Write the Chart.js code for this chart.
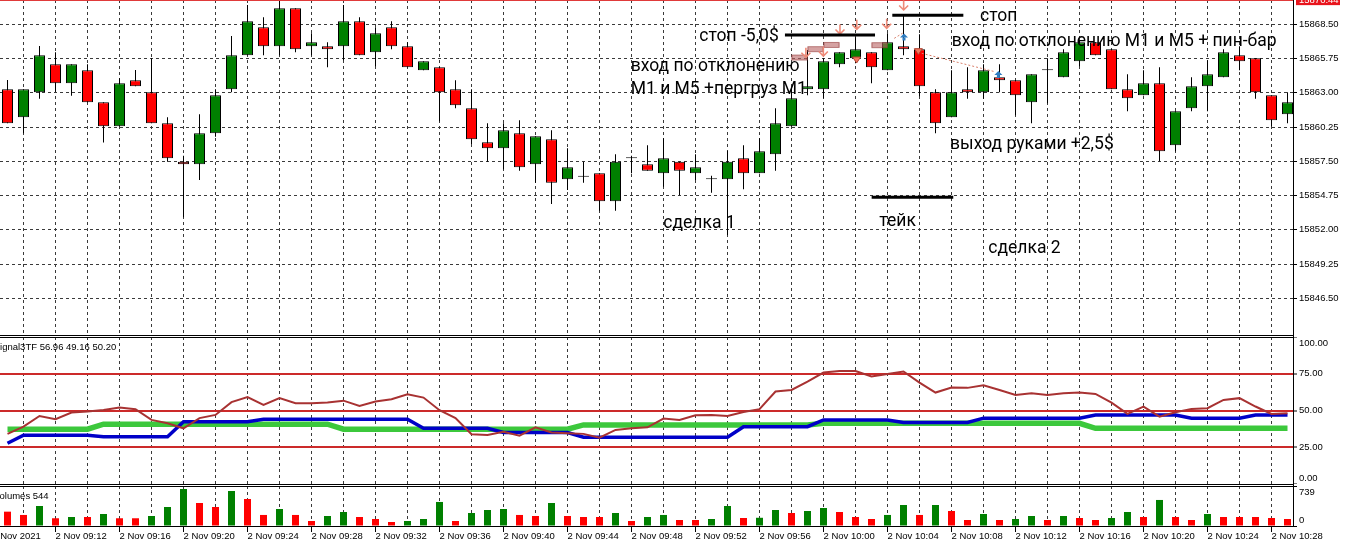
<!DOCTYPE html>
<html><head><meta charset="utf-8">
<script src="https://cdn.jsdelivr.net/npm/chart.js@4.4.1/dist/chart.umd.min.js"></script>
<style>
html,body{margin:0;padding:0;background:#fff;overflow:hidden}
#wrap{position:relative;width:1348px;height:548px;background:#fff}
canvas{position:absolute;left:0}
.ln{position:absolute;background:#000;z-index:5}
</style></head><body>
<div id="wrap">
<canvas id="c1" width="1348" height="335" style="top:0"></canvas>
<canvas id="c2" width="1348" height="147" style="top:337px"></canvas>
<canvas id="c3" width="1348" height="62" style="top:486px"></canvas>
<div class="ln" style="left:0;top:335px;width:1294px;height:1px"></div>
<div class="ln" style="left:0;top:337px;width:1294px;height:1px"></div>
<div class="ln" style="left:0;top:484px;width:1294px;height:1px"></div>
<div class="ln" style="left:0;top:486px;width:1294px;height:1px"></div>
<div class="ln" style="left:0;top:526px;width:1294px;height:1px"></div>
<div class="ln" style="left:1293px;top:0;width:1px;height:527px"></div>
</div>
<script>
// ---------------- data ----------------
const times = ['09:09','09:10','09:11','09:12','09:13','09:14','09:15','09:16','09:17','09:18','09:19',
'09:20','09:21','09:22','09:23','09:24','09:25','09:26','09:27','09:28','09:29',
'09:30','09:31','09:32','09:33','09:34','09:35','09:36','09:37','09:38','09:39',
'09:40','09:41','09:42','09:43','09:44','09:45','09:46','09:47','09:48','09:49',
'09:50','09:51','09:52','09:53','09:54','09:55','09:56','09:57','09:58','09:59',
'10:00','10:01','10:02','10:03','10:04','10:05','10:06','10:07','10:08','10:09',
'10:10','10:11','10:12','10:13','10:14','10:15','10:16','10:17','10:18','10:19',
'10:20','10:21','10:22','10:23','10:24','10:25','10:26','10:27','10:28','10:29'];

const openP = [15863.28,15861.03,15863.04,15865.29,15863.76,15864.81,15862.24,15860.31,15864.00,15863.04,
15860.55,15857.47,15857.26,15859.75,15863.28,15866.01,15868.26,15866.73,15869.78,15866.73,
15866.73,15866.73,15868.74,15866.25,15868.26,15866.73,15864.81,15865.05,15863.28,15861.75,
15859.03,15858.54,15859.75,15857.26,15859.27,15856.05,15856.26,15856.53,15854.29,15857.74,
15857.26,15856.53,15857.47,15856.53,15856.05,15856.05,15857.74,15856.53,15858.06,15860.31,
15863.28,15863.28,15865.29,15865.77,15866.25,15864.81,15866.73,15866.49,15863.04,15861.03,
15863.28,15863.04,15864.24,15864.00,15862.24,15864.81,15864.24,15865.53,15867.05,15866.49,
15863.28,15862.80,15863.76,15858.78,15861.75,15863.52,15864.24,15866.01,15865.77,15862.80,15861.27];
const highP = [15864.03,15863.28,15866.76,15866.25,15865.29,15865.29,15862.24,15864.16,15864.83,15865.77,
15861.03,15857.95,15861.27,15863.28,15867.56,15870.05,15869.06,15870.37,15869.78,15867.78,
15867.05,15870.05,15869.06,15868.26,15868.74,15867.05,15865.53,15865.05,15864.00,15863.28,
15860.55,15860.55,15860.79,15859.51,15859.99,15858.54,15857.47,15856.53,15858.06,15857.95,
15858.78,15859.35,15857.47,15858.06,15856.34,15858.35,15858.78,15859.35,15861.75,15863.36,
15866.44,15865.77,15866.25,15867.46,15866.25,15867.78,15869.25,15867.70,15863.28,15864.81,
15865.05,15865.29,15865.29,15864.00,15864.48,15865.77,15866.49,15867.29,15867.05,15866.49,
15864.48,15864.81,15865.05,15861.51,15864.24,15865.61,15866.49,15866.73,15865.77,15862.80,15863.04];
const lowP = [15860.55,15859.75,15862.53,15863.09,15862.77,15862.24,15859.00,15860.31,15863.52,15860.55,
15857.47,15853.00,15856.00,15859.47,15863.04,15866.01,15866.01,15866.01,15866.25,15866.01,
15865.05,15865.61,15866.01,15865.13,15866.49,15865.05,15864.81,15860.71,15861.75,15858.89,
15857.47,15856.86,15856.74,15855.78,15854.07,15855.20,15855.78,15853.53,15853.53,15856.53,
15856.74,15855.46,15854.77,15856.00,15854.98,15851.58,15855.25,15856.53,15856.74,15860.31,
15862.80,15862.56,15865.05,15865.37,15863.76,15864.81,15866.01,15862.72,15859.75,15861.03,
15862.53,15862.53,15863.04,15861.19,15860.55,15862.16,15864.24,15865.13,15866.01,15863.28,
15861.51,15862.80,15857.50,15858.30,15861.51,15861.51,15864.24,15864.81,15862.53,15860.31,15860.55];
const closeP = [15860.55,15863.28,15866.01,15863.76,15865.29,15862.24,15860.31,15863.76,15863.52,15860.55,
15857.74,15857.26,15859.75,15862.80,15866.01,15868.74,15866.73,15869.78,15866.49,15867.05,
15866.49,15868.74,15866.01,15867.78,15866.73,15865.05,15865.53,15863.04,15862.00,15859.27,
15858.54,15859.99,15857.02,15859.51,15855.78,15857.02,15856.26,15854.29,15857.47,15857.74,
15856.74,15857.74,15856.74,15857.02,15856.05,15857.47,15856.53,15858.30,15860.55,15862.56,
15863.52,15865.53,15866.25,15866.49,15865.05,15867.05,15866.49,15863.52,15860.55,15863.04,
15863.04,15864.81,15864.00,15862.80,15864.48,15864.81,15866.25,15867.05,15866.01,15863.28,
15862.56,15863.76,15858.30,15861.51,15863.52,15864.48,15866.25,15865.53,15863.04,15860.79,15862.24];

const signalMain = [34.1,39.0,46.3,44.1,48.6,49.3,50.4,52.0,50.9,43.6,
41.3,37.9,44.8,47.0,55.7,59.1,53.8,58.4,55.0,55.0,
55.4,56.7,53.1,56.1,57.7,61.1,58.8,50.2,44.8,33.9,
33.4,35.6,32.9,38.6,35.0,34.5,34.1,31.5,36.8,37.9,
38.6,44.5,43.6,46.8,47.0,46.3,49.0,50.9,62.9,64.0,
69.7,75.8,76.8,76.8,73.1,74.8,76.5,69.0,62.2,65.6,
65.4,67.2,64.0,60.6,61.8,60.6,61.8,62.2,61.3,55.4,
47.7,52.7,45.8,48.8,51.1,51.6,57.2,58.4,52.7,47.7,48.2];
const signalBlue = [27.7,33.2,33.2,33.2,33.2,33.2,32.2,32.2,32.2,32.2,
32.2,42.4,42.4,42.4,42.4,42.4,44.1,44.1,44.1,44.1,
44.1,44.1,44.1,44.1,44.1,44.1,37.9,37.9,37.9,37.9,
37.9,35.0,35.0,35.0,35.0,35.0,31.8,31.8,31.8,31.8,
31.8,31.8,31.8,31.8,31.8,31.8,39.0,39.0,39.0,39.0,
39.0,43.6,43.6,43.6,43.6,43.6,41.8,41.8,41.8,41.8,
41.8,44.8,44.8,44.8,44.8,44.8,44.8,44.8,47.0,47.0,
47.0,47.0,47.0,47.0,44.8,44.8,44.8,44.8,47.0,47.0,47.0];
const signalGreen = [37.3,37.3,37.3,37.3,37.3,37.3,40.7,40.7,40.7,40.7,
40.7,40.7,40.7,40.7,40.7,40.7,40.7,40.7,40.7,40.7,
40.7,37.3,37.3,37.3,37.3,37.3,37.3,37.3,37.3,37.3,
37.3,37.3,37.3,37.3,37.3,37.3,40.2,40.2,40.2,40.2,
40.2,40.2,40.2,40.2,40.2,40.2,40.2,40.2,40.2,40.2,
40.2,41.3,41.3,41.3,41.3,41.3,41.3,41.3,41.3,41.3,
41.3,41.3,41.3,41.3,41.3,41.3,41.3,41.3,37.9,37.9,
37.9,37.9,37.9,37.9,37.9,37.9,37.9,37.9,37.9,37.9,37.9];

const volumes = [265,204,370,143,166,166,222,143,143,185,
351,684,425,351,647,499,204,314,204,92,
185,259,166,129,74,92,129,444,92,240,
296,314,204,185,425,185,166,166,240,92,
166,204,111,111,129,370,148,152,296,240,
277,333,259,166,129,204,388,204,388,277,
111,222,111,129,185,111,185,148,111,148,
259,166,481,166,111,222,166,166,166,148,129];
const volumeUp = [0,0,1,0,1,0,1,0,0,1,
1,1,0,0,1,0,0,1,0,0,
1,1,0,0,0,1,1,1,0,1,
1,1,0,0,1,0,0,0,1,0,
1,1,0,0,1,1,0,1,1,0,
1,1,0,0,0,1,1,0,1,0,
0,1,0,1,1,0,1,0,0,1,
1,0,1,0,0,1,0,0,0,0,0];

const priceTicks = [15846.50,15849.25,15852.00,15854.75,15857.50,15860.25,15863.00,15865.75,15868.50];
const indTicks = [0,25,50,75,100];
const indLevels = [25,50,75];
const volTicks = [0,739];
const xLabelTimes = ['09:12','09:16','09:20','09:24','09:28','09:32','09:36','09:40','09:44','09:48',
'09:52','09:56','10:00','10:04','10:08','10:12','10:16','10:20','10:24','10:28'];
const dateLabel = '2 Nov 2021';
const datePos = -0.95;
const lastPrice = 15870.44;
const indTitle = 'Signal3TF 56.96 49.16 50.20';
const volTitle = 'Volumes 544';

// annotations (bar index, price)
const noteTexts = [
  ['стоп -5,0$', 43.24, 15867.18],
  ['вход по отклонению', 38.95, 15864.75],
  ['M1 и M5 +пергруз M1', 38.95, 15862.88],
  ['сделка 1', 40.99, 15852.12],
  ['тейк', 54.49, 15852.30],
  ['стоп', 60.78, 15868.79],
  ['вход по отклонению M1 и M5 + пин-бар', 59.01, 15866.76],
  ['выход руками +2,5$', 58.91, 15858.46],
  ['сделка 2', 61.30, 15850.16]
];
const levelLines = [[48.59, 54.22, 15867.64],[55.30, 59.74, 15869.22],[54.01, 59.11, 15854.61]];
const tradeBoxes = [[49, 50, 15865.83],[50, 51, 15866.50],[51, 52, 15866.84],[54, 55, 15866.82]];
const sellArrows = [[49.9, 15865.85],[50.99, 15865.95],[52.03, 15867.72],[53.08, 15868.10],[54.95, 15868.18],[56.01, 15869.65]];
const blueMarks = [[56.03, 15867.44],[61.93, 15864.43]];
const salmonMarks = [[53.07, 15865.63],[56.93, 15866.30]];
const dottedLinks = [[57.14, 15866.17, 61.72, 15864.69],[55.42, 15867.37, 55.94, 15867.78]];

// ---------------- config ----------------
const RED = '#ff0000', GREEN = '#008000';
const X_MIN = -0.46875, X_MAX = X_MIN + 1293/16;
const P_MAX = 15870.45, P_MIN = 15843.55;
const AXFONT = {family:'"Liberation Sans", Arial, sans-serif', size:9.5};
const AXFONT_CSS = '9.5px "Liberation Sans", Arial, sans-serif';
const NOTEFONT = '17.5px Roboto, "Liberation Sans", sans-serif';

const gridIdx = [];
times.forEach((t,i)=>{ if (parseInt(t.slice(3),10) % 2 === 0) gridIdx.push(i); });
function labelFor(v){
  if (v < 0) return dateLabel;
  const t = times[v];
  return (t && xLabelTimes.includes(t)) ? '2 Nov ' + t : '';
}

const common = {
  responsive:false, animation:false, events:[],
  layout:{padding:0, autoPadding:false},
  plugins:{legend:{display:false}, tooltip:{enabled:false}, title:{display:false}}
};

function xScale(withLabels){
  return {
    type:'linear', min:X_MIN, max:X_MAX, offset:false,
    afterBuildTicks: s => { s.ticks = (withLabels ? [{value:datePos}] : []).concat(gridIdx.map(v=>({value:v}))); },
    afterFit: s => { s.height = withLabels ? 22 : 0; s.paddingLeft = 0; s.paddingRight = 0; },
    grid:{display:true, drawOnChartArea:true, offset:false, color:'#3a3a3a', lineWidth:1,
      drawTicks:withLabels, tickLength:6, tickWidth:1, tickBorderDash:[],
      tickColor: c => (c.tick && labelFor(c.tick.value)) ? '#000' : 'rgba(0,0,0,0)'},
    border:{display:false, dash:[3,3]},
    ticks:{display:withLabels, autoSkip:false, maxRotation:0, minRotation:0, align:'start', padding:-1,
      color:'#000', font:AXFONT, callback: v => labelFor(v)}
  };
}
function yFit(s){ s.width = 55; s.paddingTop = 0; s.paddingBottom = 0; }

function paneLabels(title, ticks, fmt){
  return {
    id:'paneLabels',
    afterDraw(chart){
      const {ctx, chartArea} = chart;
      const ys = chart.scales.y;
      ctx.save();
      ctx.font = AXFONT_CSS; ctx.fillStyle = '#000';
      ctx.textAlign = 'left'; ctx.textBaseline = 'alphabetic';
      ctx.fillText(title, chartArea.left - 6.3, chartArea.top + 13);
      ctx.textBaseline = 'middle';
      ticks.forEach(v => {
        let y = ys.getPixelForValue(v);
        y = Math.min(Math.max(y, chartArea.top + 6), chartArea.bottom - 6);
        ctx.fillText(fmt(v), chartArea.right + 6, y);
      });
      ctx.restore();
    }
  };
}

const priceNotes = {
  id:'priceNotes',
  afterDatasetsDraw(chart){
    const {ctx, chartArea} = chart;
    const xs = chart.scales.x, ys = chart.scales.y;
    const X = v => xs.getPixelForValue(v), Y = v => ys.getPixelForValue(v);
    ctx.save();
    // current price line
    ctx.strokeStyle = '#e03a3a'; ctx.lineWidth = 2;
    ctx.beginPath(); ctx.moveTo(chartArea.left, Y(lastPrice)); ctx.lineTo(chartArea.right, Y(lastPrice)); ctx.stroke();
    // trade boxes
    tradeBoxes.forEach(([a,b,p]) => {
      ctx.fillStyle = 'rgba(185,100,100,0.6)';
      ctx.fillRect(X(a), Y(p)-2.5, X(b)-X(a), 5);
      ctx.strokeStyle = 'rgba(150,60,60,0.6)'; ctx.lineWidth = 1;
      ctx.strokeRect(X(a)+0.5, Y(p)-2.5, X(b)-X(a)-1, 5);
    });
    // dotted links
    ctx.strokeStyle = '#d9806c'; ctx.lineWidth = 1; ctx.setLineDash([2,2]);
    dottedLinks.forEach(([a,p,b,q]) => { ctx.beginPath(); ctx.moveTo(X(a),Y(p)); ctx.lineTo(X(b),Y(q)); ctx.stroke(); });
    ctx.setLineDash([]);
    // sell arrows
    ctx.strokeStyle = '#ee8a78'; ctx.lineWidth = 1.6;
    sellArrows.forEach(([i,p]) => {
      const x = X(i), y = Y(p);
      ctx.beginPath(); ctx.moveTo(x, y-9.5); ctx.lineTo(x, y);
      ctx.moveTo(x-4.5, y-4.5); ctx.lineTo(x, y); ctx.lineTo(x+4.5, y-4.5); ctx.stroke();
    });
    // salmon markers
    salmonMarks.forEach(([i,p]) => {
      const x = X(i), y = Y(p);
      ctx.fillStyle = '#f07a60'; ctx.strokeStyle = '#b04030'; ctx.lineWidth = 1;
      ctx.beginPath(); ctx.moveTo(x-4, y-3); ctx.lineTo(x+4, y-3); ctx.lineTo(x, y+3); ctx.closePath(); ctx.fill(); ctx.stroke();
    });
    // blue markers
    blueMarks.forEach(([i,p]) => {
      const x = X(i), y = Y(p);
      ctx.fillStyle = '#2f7cc0';
      ctx.beginPath(); ctx.moveTo(x, y-4); ctx.lineTo(x+4, y); ctx.lineTo(x-4, y); ctx.closePath(); ctx.fill();
      ctx.fillRect(x-1.5, y, 3, 3);
    });
    // black level lines
    ctx.strokeStyle = '#000'; ctx.lineWidth = 3;
    levelLines.forEach(([a,b,p]) => { ctx.beginPath(); ctx.moveTo(X(a),Y(p)); ctx.lineTo(X(b),Y(p)); ctx.stroke(); });
    // texts
    ctx.font = NOTEFONT; ctx.fillStyle = '#000'; ctx.textAlign = 'left'; ctx.textBaseline = 'alphabetic';
    noteTexts.forEach(([t,i,p]) => ctx.fillText(t, X(i), Y(p)));
    ctx.restore();
  },
  afterDraw(chart){
    const {ctx, chartArea} = chart;
    const y = chart.scales.y.getPixelForValue(lastPrice);
    ctx.save();
    ctx.fillStyle = '#e8141c';
    ctx.fillRect(chartArea.right + 3, y-6, 44, 11);
    ctx.fillStyle = '#fff'; ctx.font = AXFONT_CSS; ctx.textAlign='left'; ctx.textBaseline='middle';
    ctx.fillText(lastPrice.toFixed(2), chartArea.right + 6, y);
    ctx.restore();
  }
};

// ---------------- price pane ----------------
new Chart(document.getElementById('c1'), {
  type:'bar',
  data:{datasets:[
    {data: times.map((t,i)=>({x:i, y:[openP[i], closeP[i]]})),
     backgroundColor: times.map((t,i)=> closeP[i] >= openP[i] ? GREEN : RED),
     borderColor:'#000', borderWidth:1, borderSkipped:false, barThickness:11, minBarLength:1,
     grouped:false, inflateAmount:0, order:0},
    {data: times.map((t,i)=>({x:i, y:[lowP[i], highP[i]]})),
     backgroundColor:'#000', borderWidth:0, barThickness:1, grouped:false, inflateAmount:0, order:1}
  ]},
  options:Object.assign({}, common, {
    scales:{
      x:xScale(false),
      y:{position:'right', min:P_MIN, max:P_MAX,
        afterBuildTicks: s => { s.ticks = priceTicks.map(v=>({value:v})); },
        afterFit: yFit,
        grid:{color:'#3a3a3a', lineWidth:1, drawTicks:true, tickLength:4, tickWidth:1, tickColor:'#000', tickBorderDash:[]},
        border:{display:false, dash:[3,3]},
        ticks:{color:'#000', padding:2, font:AXFONT, callback: v => Number(v).toFixed(2)}}
    }
  }),
  plugins:[priceNotes]
});

// ---------------- indicator pane ----------------
const pts = arr => arr.map((v,i)=>({x:i, y:v}));
new Chart(document.getElementById('c2'), {
  type:'line',
  data:{datasets:[
    {data:pts(signalMain), borderColor:'#a83232', borderWidth:2, pointRadius:0, tension:0, order:0},
    {data:pts(signalBlue), borderColor:'#0000c8', borderWidth:3.5, pointRadius:0, tension:0, order:1},
    {data:pts(signalGreen), borderColor:'#3cc83c', borderWidth:5.5, pointRadius:0, tension:0, order:2}
  ]},
  options:Object.assign({}, common, {
    scales:{
      x:xScale(false),
      y:{position:'right', min:0, max:100,
        afterBuildTicks: s => { s.ticks = indTicks.map(v=>({value:v})); },
        afterFit: yFit,
        grid:{color: c => (c.tick && indLevels.includes(c.tick.value)) ? '#cc2a2a' : 'rgba(0,0,0,0)',
          lineWidth:2, drawTicks:true, tickLength:4, tickWidth:1, tickColor:'#000', tickBorderDash:[]},
        border:{display:false, dash:[]},
        ticks:{display:false}}
    }
  }),
  plugins:[paneLabels(indTitle, indTicks, v => v.toFixed(2))]
});

// ---------------- volume pane ----------------
new Chart(document.getElementById('c3'), {
  type:'bar',
  data:{datasets:[
    {data: volumes.map((v,i)=>({x:i, y:v})),
     backgroundColor: volumeUp.map(u => u ? GREEN : RED),
     borderWidth:0, barThickness:7, grouped:false, inflateAmount:0}
  ]},
  options:Object.assign({}, common, {
    scales:{
      x:xScale(true),
      y:{position:'right', min:0, max:739,
        afterBuildTicks: s => { s.ticks = volTicks.map(v=>({value:v})); },
        afterFit: yFit,
        grid:{drawOnChartArea:false, drawTicks:true, tickLength:4, tickWidth:1, tickColor:'#000', tickBorderDash:[]},
        border:{display:false},
        ticks:{display:false}}
    }
  }),
  plugins:[paneLabels(volTitle, volTicks, v => String(v))]
});
</script>
</body></html>
